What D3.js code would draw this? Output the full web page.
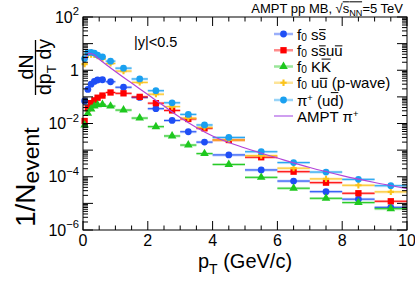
<!DOCTYPE html>
<html>
<head>
<meta charset="utf-8">
<script src="https://cdn.jsdelivr.net/npm/d3@7"></script>
<style>
  body { margin: 0; background: #fff; }
  svg { font-family: "Liberation Sans", Arial, sans-serif; }
  svg text { white-space: pre; }
</style>
</head>
<body>
<div id="chart"></div>
<script>
var width = 415,
    height = 281,
    plotL = 83, plotR = 407, plotT = 17, plotB = 230;

// pT bins (GeV/c)
var binLo = [0, 0.1, 0.2, 0.3, 0.4, 0.5, 0.7, 1.0, 1.5, 2.0, 2.5, 3.0, 3.5, 4, 5, 6, 7, 8, 9];
var binHi = [0.1, 0.2, 0.3, 0.4, 0.5, 0.7, 1.0, 1.5, 2.0, 2.5, 3.0, 3.5, 4, 5, 6, 7, 8, 9, 10];

// 1/N dN/dpTdy
var f0SsBar   = [0.07, 0.19, 0.30, 0.38, 0.43, 0.44, 0.37, 0.23, 0.095, 0.036, 0.013, 0.0049, 0.0020, 6.6e-4, 1.8e-4, 6.9e-5, 2.75e-5, 1.44e-5, 7.1e-6];
var f0SsUu    = [0.0124, 0.037, 0.058, 0.074, 0.093, 0.112, 0.146, 0.136, 0.10, 0.058, 0.031, 0.0148, 0.0066, 0.0024, 5.4e-4, 1.55e-4, 6.0e-5, 2.4e-5, 1.2e-5];
var f0KK      = [0.0088, 0.024, 0.035, 0.045, 0.050, 0.052, 0.045, 0.032, 0.016, 0.0076, 0.0034, 0.00155, 7.4e-4, 2.9e-4, 9.5e-5, 3.7e-5, 1.55e-5, 1.07e-5, 6.3e-6];
var f0UuP     = [1.7, 3.8, 3.9, 3.8, 3.4, 2.7, 1.8, 0.93, 0.35, 0.126, 0.043, 0.016, 0.0072, 0.0024, 6.2e-4, 2.1e-4, 8.3e-5, 4.8e-5, 2.7e-5];
var piPlusUd  = [2.75, 4.6, 4.7, 4.4, 3.7, 3.2, 2.2, 1.2, 0.47, 0.17, 0.06, 0.022, 0.0088, 0.003, 8.7e-4, 3.4e-4, 1.5e-4, 8e-5, 4.6e-5];
var sysRel = 0.12;

// AMPT pi+ curve
var amptPt = [0.08, 0.18, 0.3, 0.5, 1.0, 1.5, 2.0, 2.5, 3.0, 3.5, 4.0, 5.0, 6.0, 7.0, 8.0, 9.0, 10.0];
var amptPi = [2.6, 4.3, 4.07, 2.6, 0.9, 0.33, 0.123, 0.045, 0.0168, 0.0071, 0.0034, 0.0012, 5.06e-4, 2.22e-4, 1.11e-4, 6.1e-5, 3.6e-5];

var xTicks = [0, 2, 4, 6, 8, 10];
var yLabelExp = [2, 0, -2, -4, -6];
var legendY = [34, 50.25, 66.5, 82.75, 100, 116];

var series = [
  { vals: f0SsBar, color: "#1f4ef5", sym: d3.symbolCircle, size: 36,
    label: [{t: "f"}, {t: "0", s: "sub", k: 0.68, dy: 0.08}, {t: " s"}, {t: "s", o: 0.66}] },
  { vals: f0SsUu, color: "#ff0000", sym: d3.symbolSquare, size: 40,
    label: [{t: "f"}, {t: "0", s: "sub", k: 0.68, dy: 0.08}, {t: " s"}, {t: "s", o: 0.66}, {t: "u"}, {t: "u", o: 0.66}] },
  { vals: f0KK, color: "#1ec81e", sym: d3.symbolTriangle, size: 32,
    label: [{t: "f"}, {t: "0", s: "sub", k: 0.68, dy: 0.08}, {t: " K"}, {t: "K", o: 0.86}] },
  { vals: f0UuP, color: "#fbc31b", sym: d3.symbolCross, size: 22,
    label: [{t: "f"}, {t: "0", s: "sub", k: 0.68, dy: 0.08}, {t: " u"}, {t: "u", o: 0.66}, {t: " (p-wave)"}] },
  { vals: piPlusUd, color: "#1aa0f0", sym: d3.symbolCircle, size: 36,
    label: [{t: "π"}, {t: "+", s: "sup", k: 0.62, dy: 0.3}, {t: " (u"}, {t: "d", o: 0.86}, {t: ")"}] }
];

var x = d3.scaleLinear().domain([0, 10]).range([plotL, plotR]);
var y = d3.scaleLog().domain([1e-6, 1e2]).range([plotB, plotT]);

var svg = d3.select("#chart").append("svg")
    .attr("width", width)
    .attr("height", height);

// text with sub/superscripts and overlines, laid out piece by piece
function richText(sel, parts, size, anchor) {
  var g = sel.append("g"),
      inner = g.append("g"),
      cx = 0;
  parts.forEach(function(p) {
    var fs = p.s ? size * (p.k || 0.7) : size,
        dy = p.s === "sub" ? size * (p.dy || 0.25) : p.s === "sup" ? -size * (p.dy || 0.42) : 0;
    var t = inner.append("text")
        .attr("x", cx)
        .attr("y", dy)
        .attr("font-size", fs)
        .attr("xml:space", "preserve")
        .text(p.t);
    var w = t.node().getComputedTextLength();
    if (p.o) {
      inner.append("line")
          .attr("x1", cx + (p.ox === undefined ? 0.5 : p.ox)).attr("x2", cx + w - 0.3)
          .attr("y1", -size * p.o).attr("y2", -size * p.o)
          .attr("stroke", "#000")
          .attr("stroke-width", Math.max(1, size / 15));
    }
    cx += w;
  });
  var shift = anchor === "end" ? -cx : anchor === "middle" ? -cx / 2 : 0;
  inner.attr("transform", "translate(" + shift + ",0)");
  return g;
}

// Data
series.forEach(function(s) {
  var g = svg.append("g");
  s.vals.forEach(function(v, i) {
    var x0 = x(binLo[i]), x1 = x(binHi[i]), xc = x((binLo[i] + binHi[i]) / 2);
    g.append("rect")
        .attr("x", x0)
        .attr("width", x1 - x0)
        .attr("y", y(v * (1 + sysRel)))
        .attr("height", y(v * (1 - sysRel)) - y(v * (1 + sysRel)))
        .attr("fill", s.color)
        .attr("fill-opacity", 0.3);
    g.append("line")
        .attr("x1", x0).attr("x2", x1)
        .attr("y1", y(v)).attr("y2", y(v))
        .attr("stroke", s.color)
        .attr("stroke-width", 1);
    g.append("path")
        .attr("d", d3.symbol().type(s.sym).size(s.size))
        .attr("transform", "translate(" + xc + "," + y(v) + ")")
        .attr("fill", s.color);
  });
});

// AMPT curve
svg.append("path")
    .datum(amptPt.map(function(p, i) { return [p, amptPi[i]]; }))
    .attr("d", d3.line()
        .x(function(d) { return x(d[0]); })
        .y(function(d) { return y(d[1]); })
        .curve(d3.curveMonotoneX))
    .attr("fill", "none")
    .attr("stroke", "#b343d9")
    .attr("stroke-width", 1.2);

// Frame & ticks
svg.append("rect")
    .attr("x", plotL).attr("y", plotT)
    .attr("width", plotR - plotL).attr("height", plotB - plotT)
    .attr("fill", "none")
    .attr("stroke", "#000");

var ticks = svg.append("g").attr("stroke", "#000").attr("stroke-width", 1);
d3.range(0, 10.01, 0.5).forEach(function(t) {
  var len = (t % 2 === 0) ? 9 : 4.5;
  ticks.append("line").attr("x1", x(t)).attr("x2", x(t)).attr("y1", plotB).attr("y2", plotB - len);
  ticks.append("line").attr("x1", x(t)).attr("x2", x(t)).attr("y1", plotT).attr("y2", plotT + len);
});
d3.range(-6, 3).forEach(function(e) {
  var v = Math.pow(10, e);
  ticks.append("line").attr("x1", plotL).attr("x2", plotL + 10).attr("y1", y(v)).attr("y2", y(v));
  ticks.append("line").attr("x1", plotR).attr("x2", plotR - 10).attr("y1", y(v)).attr("y2", y(v));
  if (e < 2) {
    d3.range(2, 10).forEach(function(k) {
      var vv = k * v;
      ticks.append("line").attr("x1", plotL).attr("x2", plotL + 5).attr("y1", y(vv)).attr("y2", y(vv));
      ticks.append("line").attr("x1", plotR).attr("x2", plotR - 5).attr("y1", y(vv)).attr("y2", y(vv));
    });
  }
});

// Tick labels
xTicks.forEach(function(t) {
  svg.append("text")
      .attr("x", x(t))
      .attr("y", 246)
      .attr("text-anchor", "middle")
      .attr("font-size", 16)
      .text(t);
});
yLabelExp.forEach(function(e) {
  var g = svg.append("g").attr("transform", "translate(79," + (y(Math.pow(10, e)) + 5.5) + ")");
  if (e === 0) {
    richText(g, [{t: "1"}], 16, "end");
  } else {
    richText(g, [{t: "10"}, {t: (e < 0 ? "\u2212" : "") + Math.abs(e), s: "sup", dy: 0.45}], 16, "end");
  }
});

// Axis titles
richText(svg.append("g").attr("transform", "translate(245,268)"),
    [{t: "p"}, {t: "T", s: "sub", dy: 0.3}, {t: " (GeV/c)"}], 20, "middle");

richText(svg.append("g").attr("transform", "translate(35,227) rotate(-90)"),
    [{t: "1/N"}, {t: "event", s: "sub", k: 0.82, dy: 0.15}], 28, "start");
richText(svg.append("g").attr("transform", "translate(33,67) rotate(-90)"),
    [{t: "dN"}], 19.5, "middle");
svg.append("line")
    .attr("x1", 35.5).attr("x2", 35.5)
    .attr("y1", 40).attr("y2", 95)
    .attr("stroke", "#000").attr("stroke-width", 1.3);
richText(svg.append("g").attr("transform", "translate(50.5,67) rotate(-90)"),
    [{t: "dp"}, {t: "T", s: "sub", dy: 0.3}, {t: " dy"}], 19.5, "middle");

// Title and cut label
richText(svg.append("g").attr("transform", "translate(403,13)"),
    [{t: "AMPT pp MB, \u221A"}, {t: "s", o: 0.86, ox: 0}, {t: "NN", s: "sub", o: 0.86, ox: 0}, {t: "=5 TeV"}], 13, "end");

svg.append("text")
    .attr("x", 134)
    .attr("y", 47)
    .attr("font-size", 14.5)
    .text("|y|<0.5");

// Legend
var legend = svg.append("g");
series.concat([{ line: true, label: [{t: "AMPT π"}, {t: "+", s: "sup", k: 0.62, dy: 0.3}] }]).forEach(function(s, i) {
  var ly = legendY[i];
  if (s.line) {
    legend.append("line")
        .attr("x1", 274).attr("x2", 293)
        .attr("y1", ly).attr("y2", ly)
        .attr("stroke", "#cf9ff0")
        .attr("stroke-width", 2);
  } else {
    legend.append("line")
        .attr("x1", 274).attr("x2", 293)
        .attr("y1", ly).attr("y2", ly)
        .attr("stroke", s.color)
        .attr("stroke-opacity", 0.45)
        .attr("stroke-width", 2.5);
    legend.append("path")
        .attr("d", d3.symbol().type(s.sym).size(s.size))
        .attr("transform", "translate(283.5," + ly + ")")
        .attr("fill", s.color);
  }
  richText(legend.append("g").attr("transform", "translate(297," + (ly + 5.5) + ")"), s.label, 15, "start");
});
</script>
</body>
</html>
